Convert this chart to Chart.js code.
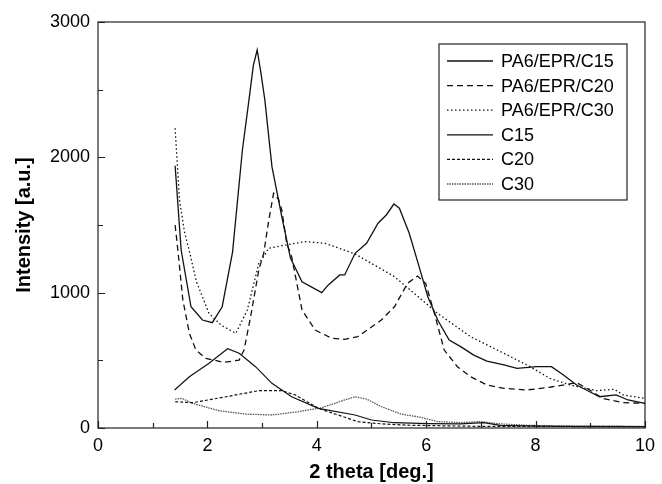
<!DOCTYPE html>
<html>
<head>
<meta charset="utf-8">
<script src="https://cdn.jsdelivr.net/npm/chart.js@4.4.0/dist/chart.umd.min.js"></script>
<style>
  html, body { margin: 0; padding: 0; background: #fff; }
</style>
</head>
<body>
<canvas id="xrdChart" width="662" height="484"></canvas>
<script>
// series data (2 theta in deg., intensity in a.u.)
const seriesNames = ["PA6/EPR/C15", "PA6/EPR/C20", "PA6/EPR/C30", "C15", "C20", "C30"];

const blendC15X = [1.41, 1.52, 1.70, 1.91, 2.09, 2.27, 2.46, 2.64, 2.76, 2.84, 2.91, 2.98, 3.05, 3.18, 3.36, 3.52, 3.73, 4.09, 4.21, 4.42, 4.51, 4.70, 4.91, 5.12, 5.27, 5.41, 5.51, 5.69, 5.87, 6.03, 6.21, 6.42, 6.63, 6.87, 7.11, 7.42, 7.66, 8.02, 8.29, 8.51, 8.75, 8.99, 9.17, 9.47, 9.69, 10.0];
const blendC15Y = [1938, 1315, 896, 798, 778, 896, 1300, 2054, 2424, 2680, 2793, 2620, 2424, 1931, 1561, 1254, 1081, 1000, 1057, 1131, 1131, 1291, 1365, 1513, 1574, 1655, 1624, 1439, 1192, 970, 798, 650, 601, 539, 495, 466, 441, 453, 453, 392, 318, 268, 231, 244, 207, 182];

const blendC20X = [1.41, 1.46, 1.55, 1.67, 1.79, 1.97, 2.30, 2.58, 2.67, 2.79, 2.94, 3.03, 3.12, 3.21, 3.30, 3.36, 3.45, 3.54, 3.73, 3.97, 4.27, 4.51, 4.75, 5.18, 5.42, 5.66, 5.84, 5.99, 6.15, 6.33, 6.57, 6.81, 7.11, 7.42, 7.84, 8.26, 8.75, 8.99, 9.23, 9.60, 10.0];
const blendC20Y = [1500, 1315, 950, 700, 576, 515, 485, 502, 576, 822, 1168, 1291, 1530, 1734, 1690, 1611, 1365, 1266, 872, 724, 663, 655, 675, 798, 896, 1069, 1123, 1069, 847, 576, 453, 379, 318, 293, 281, 301, 335, 281, 219, 187, 182];

const blendC30X = [1.41, 1.49, 1.58, 1.68, 1.80, 2.03, 2.25, 2.52, 2.73, 2.94, 3.03, 3.12, 3.42, 3.79, 4.15, 4.70, 5.42, 5.78, 6.21, 6.81, 7.42, 7.90, 8.26, 8.63, 9.11, 9.44, 9.60, 10.0];
const blendC30Y = [2215, 1685, 1450, 1290, 1080, 847, 760, 700, 872, 1217, 1266, 1328, 1352, 1377, 1365, 1286, 1118, 995, 847, 675, 552, 453, 367, 318, 276, 286, 244, 219];

const clayC15X = [1.40, 1.67, 2.03, 2.37, 2.58, 2.88, 3.18, 3.54, 4.03, 4.70, 5.00, 5.42, 6.03, 6.63, 7.05, 7.36, 7.84, 8.50, 10.0];
const clayC15Y = [281, 379, 478, 586, 552, 453, 330, 231, 145, 96, 59, 39, 33, 30, 39, 20, 15, 12, 10];

const clayC20X = [1.41, 1.73, 2.34, 2.94, 3.36, 3.61, 4.03, 4.75, 5.20, 5.72, 7.00, 10.0];
const clayC20Y = [194, 187, 231, 276, 276, 244, 145, 47, 30, 20, 12, 10];

const clayC30X = [1.41, 1.53, 1.73, 2.21, 2.70, 3.18, 3.67, 4.09, 4.51, 4.70, 4.91, 5.18, 5.54, 5.90, 6.21, 6.63, 6.99, 7.36, 7.84, 8.44, 10.0];
const clayC30Y = [214, 219, 182, 128, 103, 96, 121, 150, 207, 231, 214, 158, 103, 79, 47, 40, 47, 30, 20, 15, 12];

const xTickLabels = [0, 2, 4, 6, 8, 10];
const yTickLabels = [0, 1000, 2000, 3000];

function toPoints(xs, ys) {
  return xs.map((x, i) => ({ x: x, y: ys[i] }));
}

Chart.defaults.font.family = "'Liberation Sans', Arial, sans-serif";
Chart.defaults.font.size = 18;
Chart.defaults.color = "#000";

// frame + inward ticks
const frameTicks = {
  id: "frameTicks",
  afterDraw(chart) {
    const { ctx, chartArea: a, scales } = chart;
    ctx.save();
    ctx.strokeStyle = "#222";
    ctx.lineWidth = 1.2;
    ctx.strokeRect(a.left, a.top, a.right - a.left, a.bottom - a.top);
    ctx.beginPath();
    for (let v = 0; v <= 10; v++) {
      const px = Math.round(scales.x.getPixelForValue(v)) + 0.5;
      const len = v % 2 === 0 ? 7 : 5;
      ctx.moveTo(px, a.bottom);
      ctx.lineTo(px, a.bottom - len);
    }
    for (let v = 0; v <= 3000; v += 500) {
      const py = Math.round(scales.y.getPixelForValue(v)) + 0.5;
      const len = v % 1000 === 0 ? 7 : 5;
      ctx.moveTo(a.left, py);
      ctx.lineTo(a.left + len, py);
    }
    ctx.stroke();
    ctx.restore();
  }
};

// boxed legend inside plot area
const boxLegend = {
  id: "boxLegend",
  afterDraw(chart) {
    const { ctx } = chart;
    const bx = 439, by = 44, bw = 188, bh = 156;
    ctx.save();
    ctx.fillStyle = "#fff";
    ctx.fillRect(bx, by, bw, bh);
    ctx.strokeStyle = "#222";
    ctx.lineWidth = 1.2;
    ctx.strokeRect(bx, by, bw, bh);
    ctx.font = "18px 'Liberation Sans', Arial, sans-serif";
    ctx.textBaseline = "middle";
    ctx.fillStyle = "#000";
    chart.data.datasets.forEach((ds, i) => {
      const y = by + 17 + i * 24.6;
      ctx.beginPath();
      ctx.strokeStyle = ds.borderColor;
      ctx.lineWidth = ds.borderWidth;
      ctx.setLineDash(ds.borderDash || []);
      ctx.moveTo(447, y);
      ctx.lineTo(493, y);
      ctx.stroke();
      ctx.setLineDash([]);
      ctx.fillText(ds.label, 501, y + 1);
    });
    ctx.restore();
  }
};

const ctx = document.getElementById("xrdChart").getContext("2d");
const xrdChart = new Chart(ctx, {
  type: "scatter",
  data: {
    datasets: [
      { label: seriesNames[0], data: toPoints(blendC15X, blendC15Y), borderColor: "#111", borderWidth: 1.3, borderDash: [] },
      { label: seriesNames[1], data: toPoints(blendC20X, blendC20Y), borderColor: "#111", borderWidth: 1.3, borderDash: [6, 4] },
      { label: seriesNames[2], data: toPoints(blendC30X, blendC30Y), borderColor: "#111", borderWidth: 1.3, borderDash: [1.5, 2.5] },
      { label: seriesNames[3], data: toPoints(clayC15X, clayC15Y), borderColor: "#111", borderWidth: 1.2, borderDash: [] },
      { label: seriesNames[4], data: toPoints(clayC20X, clayC20Y), borderColor: "#111", borderWidth: 1.2, borderDash: [3, 2] },
      { label: seriesNames[5], data: toPoints(clayC30X, clayC30Y), borderColor: "#555", borderWidth: 1.3, borderDash: [1.5, 1] },
    ].map(d => Object.assign(d, { showLine: true, pointRadius: 0, tension: 0, fill: false })),
  },
  options: {
    responsive: false,
    animation: false,
    layout: { padding: { top: 22, right: 13, left: 0, bottom: 0 } },
    plugins: { legend: { display: false }, tooltip: { enabled: false } },
    scales: {
      x: {
        type: "linear",
        min: 0,
        max: 10,
        grid: { display: false, drawTicks: false },
        border: { display: false },
        ticks: {
          stepSize: 1,
          padding: 7,
          maxRotation: 0,
          callback: v => (xTickLabels.includes(v) ? v : ""),
        },
        title: {
          display: true,
          text: "2 theta [deg.]",
          font: { size: 20, weight: "bold" },
          padding: { top: 0, bottom: 0 },
        },
        afterFit: s => { s.height = 56; },
      },
      y: {
        min: 0,
        max: 3000,
        grid: { display: false, drawTicks: false },
        border: { display: false },
        ticks: {
          stepSize: 500,
          padding: 8,
          callback: v => (yTickLabels.includes(v) ? v : ""),
        },
        title: {
          display: true,
          text: "Intensity [a.u.]",
          font: { size: 20, weight: "bold" },
          padding: { top: 12, bottom: 0 },
        },
        afterFit: s => { s.width = 98; },
      },
    },
  },
  plugins: [frameTicks, boxLegend],
});
</script>
</body>
</html>
